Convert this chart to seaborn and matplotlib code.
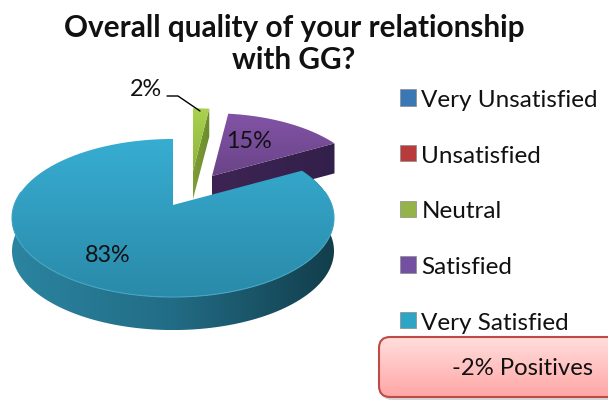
import numpy as np
import matplotlib
matplotlib.use("Agg")
import matplotlib.pyplot as plt
import seaborn as sns
from matplotlib.colors import LinearSegmentedColormap
from matplotlib.patches import Polygon, FancyBboxPatch, Patch

categories = ["Very Unsatisfied", "Unsatisfied", "Neutral", "Satisfied", "Very Satisfied"]
values = [0, 0, 2, 15, 83]
legend_colors = ["#3A78B5", "#B83A3A", "#94B44A", "#7450A0", "#2FA5C5"]
title_text = "Overall quality of your relationship\nwith GG?"
note_text = "-2% Positives"

sns.set_theme(style="white")
plt.rcParams["font.family"] = ["Lato", "DejaVu Sans"]
palette = sns.color_palette(legend_colors)

fig = plt.figure(figsize=(6.08, 4.02), dpi=100)
ax = fig.add_axes([0, 0, 1, 1])

wedges, _ = ax.pie(values, startangle=90, counterclock=False, colors=palette)
for w in wedges:
    w.set_visible(False)

# Style of the tilted drawing: apex in pixels, radii, depth and shading per slice
K = 0.1646
style = {
    "Neutral": dict(apex=(193, 172), scale=0.95, depth=28, face=("#AAD24F", "#8DB33B"),
                    side=("#7F9E35", "#6C8A2C")),
    "Satisfied": dict(apex=(212, 177), scale=0.95, depth=30, face=("#8253A6", "#6A4488"),
                      side=("#3D2454", "#33204A")),
    "Very Satisfied": dict(apex=(173, 206), scale=1.0, depth=33, face=("#37ADD2", "#2A8AA9"),
                           side=("#2B84A0", "#226C85", "#123E4C")),
}
RX, RY = 158.8, 76.9


def rim(apex, scale, angles):
    a = np.deg2rad(angles)
    x, y = np.cos(a), np.sin(a)
    w = 1 + K * y
    return np.column_stack([apex[0] + scale * RX * x / w, apex[1] - scale * RY * y / w])


def shade(patch, colors, vertical=True, z=2):
    ax.add_patch(patch)
    patch.set_facecolor("none")
    patch.set_edgecolor("none")
    patch.set_zorder(z)
    ext = patch.get_path().get_extents(patch.get_patch_transform())
    cmap = LinearSegmentedColormap.from_list("g", list(colors))
    g = np.linspace(0, 1, 128)
    g = g[:, None] if vertical else g[None, :]
    im = ax.imshow(g, cmap=cmap, aspect="auto", zorder=z, interpolation="bilinear",
                   extent=(ext.x0, ext.x1, ext.y1, ext.y0))
    im.set_clip_path(patch)


z = 2
for name in ["Neutral", "Satisfied", "Very Satisfied"]:
    w = wedges[categories.index(name)]
    s = style[name]
    t1, t2 = w.theta1, w.theta2
    ang = np.linspace(t1, t2, 300)
    apex = np.array(s["apex"], float)
    drop = np.array([0, s["depth"]])
    if name != "Very Satisfied":
        p = rim(apex, s["scale"], np.array([t1]))[0]
        shade(Polygon([apex, p, p + drop, apex + drop]), s["side"], vertical=False, z=z)
    else:
        arc = rim(apex, s["scale"], np.linspace(-190, t2, 300))
        shade(Polygon(np.vstack([arc, (arc + drop)[::-1]])), s["side"], vertical=False, z=z)
    z += 1
    pts = np.vstack([apex, rim(apex, s["scale"], ang)])
    shade(Polygon(pts), s["face"], vertical=True, z=z)
    if name == "Very Satisfied":
        front = rim(apex, s["scale"], np.linspace(-190, 10, 200))
        ax.plot(front[:, 0], front[:, 1], color="#45A5C2", lw=0.8, zorder=z + 0.5)
    z += 1

# Percent labels
ax.text(146, 89, f"{values[2]}%", ha="center", va="center", fontsize=16.8, color="#111111", zorder=20)
ax.text(249, 142, f"{values[3]}%", ha="center", va="center", fontsize=16.8, color="#111111", zorder=20)
ax.text(108, 256, f"{values[4]}%", ha="center", va="center", fontsize=16.8, color="#111111", zorder=20)
ax.plot([167, 178, 200], [97, 97, 112], color="black", lw=1.0, zorder=20)

# Title
ax.text(294, 44, title_text, ha="center", va="center", fontsize=21.4, fontweight="bold",
        color="#111111", linespacing=1.2, zorder=20)

# Legend
handles = [Patch(facecolor=c, edgecolor="#8A8A8A", linewidth=0.5) for c in palette]
ax.legend(handles, categories, loc="upper left", bbox_to_anchor=(400 / 608, 1 - 90 / 402),
          frameon=False, fontsize=17.5, handlelength=0.66, handleheight=0.66, handletextpad=0.22,
          labelspacing=1.425, borderpad=0, borderaxespad=0, labelcolor="#111111")

# Note box
shadow = FancyBboxPatch((381, 341), 240, 60, boxstyle="round,pad=0,rounding_size=11",
                        facecolor="#BBBBBB", edgecolor="none", alpha=0.6, zorder=9)
ax.add_patch(shadow)
box = FancyBboxPatch((379, 338), 240, 60, boxstyle="round,pad=0,rounding_size=11")
shade(box, ("#FFDEDC", "#FFA6A6"), vertical=True, z=10)
outline = FancyBboxPatch((379, 338), 240, 60, boxstyle="round,pad=0,rounding_size=11",
                         facecolor="none", edgecolor="#BE4B48", linewidth=1.5, zorder=11)
ax.add_patch(outline)
ax.text(522, 369, note_text, ha="center", va="center", fontsize=17.2, color="#111111", zorder=20)

ax.set_aspect("auto")
ax.set_xlim(0, 608)
ax.set_ylim(402, 0)
ax.axis("off")
fig.savefig("out.png", dpi=100)
